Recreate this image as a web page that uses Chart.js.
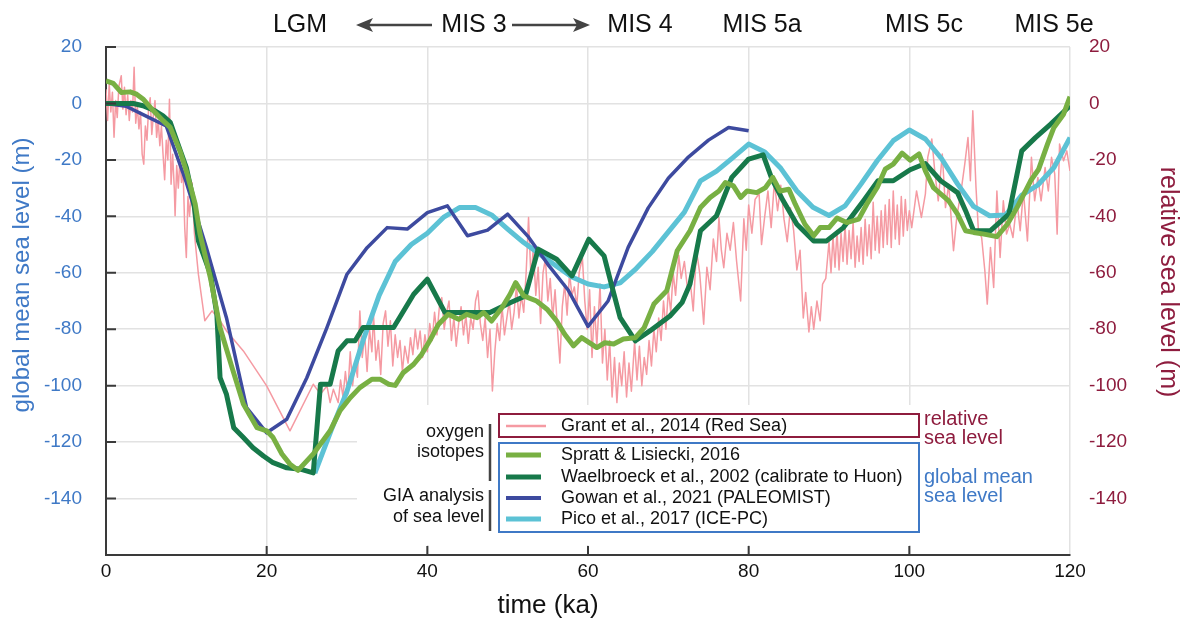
<!DOCTYPE html>
<html>
<head>
<meta charset="utf-8">
<title>Global mean and relative sea level, 0-120 ka</title>
<script src="https://cdn.jsdelivr.net/npm/chart.js@4.4.0/dist/chart.umd.min.js"></script>
<style>
    html, body { margin: 0; padding: 0; background: #fff; }
    canvas { display: block; }
</style>
</head>
<body>
<canvas id="seaLevelChart" width="1187" height="624"></canvas>
<script>
// ---- data: age in ka, sea level in m ----
const ageTicks = [0, 20, 40, 60, 80, 100, 120];
const levelTicks = [20, 0, -20, -40, -60, -80, -100, -120, -140];

const sprattAge = [0, 0.9, 1.9, 3.0, 3.8, 4.6, 5.9, 7.1, 8.0, 9.2, 10.0, 11.1, 11.7, 13.0, 14.2, 15.7, 17.1, 18.8, 20.0, 20.8,
    21.9, 22.9, 23.9, 25.8, 27.9, 29.1, 30.4, 31.6, 33.1, 34.1, 35.2, 36.0, 37.0, 38.3, 39.3, 40.3, 41.4, 42.6, 43.9, 44.9,
    46.2, 47.0, 48.0, 49.3, 50.3, 51.0, 52.0, 53.6, 54.9, 56.1, 57.1, 58.2, 59.2, 60.3, 61.1, 62.1, 63.2, 64.4, 65.9, 67.0,
    68.2, 69.8, 71.1, 72.7, 74.0, 75.2, 76.3, 77.1, 78.1, 79.0, 79.8, 81.0, 82.1, 83.0, 83.9, 85.0, 85.8, 87.0, 88.1, 88.9,
    90.0, 91.0, 92.2, 93.7, 94.7, 96.0, 97.0, 98.0, 99.1, 100.1, 101.2, 102.0, 103.0, 104.9, 106.0, 107.0, 108.0, 109.3, 110.9, 112.2,
    113.4, 115.1, 116.1, 117.2, 118.0, 119.2, 120.0];
const sprattSL = [8.0, 7.1, 3.9, 4.1, 3.3, 1.6, -2.6, -6.1, -8.5, -16.8, -23.9, -35.6, -46.2, -61.8, -79.5, -93.7, -106.5, -114.9, -116, -118.4,
    -124.2, -127.8, -130, -124.2, -116, -109, -104.3, -100.7, -97.7, -97.7, -99.5, -99.9, -95.4, -92.4, -88.9, -84.1, -78.2, -74.7, -76.5, -74.7,
    -75.9, -74.1, -77.1, -72.3, -67.6, -63.5, -68.2, -70.0, -72.9, -77.1, -81.8, -85.9, -83.0, -85.0, -86.5, -84.8, -85.2, -83.5, -83.0, -79.4,
    -71.1, -66.4, -52.2, -45.1, -36.9, -33.3, -31.0, -28.0, -29.2, -33.3, -31.0, -31.6, -29.8, -26.2, -31.0, -30.4, -35.7, -42.8, -46.9, -44.0,
    -44.0, -40.6, -42.2, -41.0, -35.7, -29.8, -23.3, -21.5, -17.6, -20.1, -17.9, -23.9, -29.8, -34.5, -39.2, -45.1, -45.7, -46.3, -47.2, -42.8,
    -36.9, -27.4, -23.3, -14.4, -8.5, -3.8, 2.4];

const waelAge = [0, 3.4, 4.6, 6.1, 7.1, 8.0, 8.8, 10.0, 10.9, 11.5, 13.0, 13.8, 14.2, 15.0, 15.9, 17.1, 18.3, 19.6, 20.8, 22.5,
    24.2, 25.8, 26.7, 27.9, 28.9, 30.0, 31.0, 32.0, 35.8, 38.3, 40.0, 42.2, 45.3, 47.8, 50.3, 52.2, 53.8, 56.1, 58.0, 60.1,
    62.0, 62.8, 64.0, 65.9, 67.7, 70.2, 71.7, 72.7, 74.0, 76.0, 77.9, 80.0, 81.8, 82.9, 84.3, 86.0, 88.1, 89.7, 91.8, 94.3,
    96.1, 98.0, 100.1, 102.0, 103.9, 106.0, 107.0, 108.0, 110.1, 112.4, 114.0, 115.7, 117.6, 120.0];
const waelSL = [0, 0, -0.8, -2.6, -4.4, -6.7, -13.2, -22.7, -34.5, -48.7, -60.5, -74.7, -97.2, -103.1, -114.9, -118.4, -122.0, -124.9, -127.3, -129.1,
    -129.6, -130.9, -99.5, -99.5, -87.7, -84.1, -84.1, -79.4, -79.4, -67.6, -62.3, -74.1, -74.1, -74.1, -70.6, -68.2, -51.6, -55.2, -61.1, -48.1,
    -54.0, -62.9, -75.9, -84.1, -80.6, -75.3, -70.6, -64.0, -45.1, -39.8, -26.2, -19.7, -18.2, -26.8, -34.5, -42.8, -48.7, -48.7, -44.0, -34.5,
    -27.4, -27.4, -23.5, -21.3, -27.4, -31.6, -38.0, -45.1, -45.1, -39.2, -16.8, -12.1, -7.3, -0.8];

const gowanAge = [0, 2.5, 5, 7.5, 10, 12.5, 15, 17.5, 20, 22.5, 25, 27.5, 30, 32.5, 35, 37.5, 40, 42.5, 45, 47.5,
    50, 52.5, 55, 57.5, 60, 62.5, 65, 67.5, 70, 72.5, 75, 77.5, 80];
const gowanSL = [0, -1, -4.5, -8, -28, -51.1, -76, -107.8, -116.7, -111.9, -97.2, -79.4, -60.5, -51.1, -44, -44.5, -38.7, -36.3, -46.9, -44.9,
    -39.2, -47, -57, -66, -79, -70, -51, -37, -26.5, -19, -13, -8.5, -9.7];

const picoAge = [26, 28, 30, 32, 34, 36, 38, 40, 42, 44, 46, 48, 50, 52, 54, 56, 58, 60, 62, 64,
    66, 68, 70, 72, 74, 76, 78, 80, 82, 84, 86, 88, 90, 92, 94, 96, 98, 100, 102, 104,
    106, 108, 110, 112, 114, 116, 118, 120];
const picoSL = [-131, -116, -102, -84, -68, -56, -50, -46, -40.4, -36.9, -36.9, -39.5, -44.5, -49.3, -53.4, -57.5, -61.5, -64, -65, -63.6,
    -58.5, -52.5, -45.5, -38.5, -27.4, -24, -19.3, -14.4, -17.2, -23, -31, -36.8, -39.7, -36.3, -28.5, -20.3, -13.2, -9.4, -12.6, -19.5,
    -28.5, -36.5, -39.8, -39.5, -32.5, -28.9, -22.7, -12.1];

// Grant et al. 2014, Red Sea relative sea level (right axis)
const grantAge = [0.0, 0.2, 0.4, 0.6, 0.8, 1.0, 1.2, 1.4, 1.6, 1.9, 2.1, 2.3, 2.5, 2.7, 2.9, 3.1, 3.3, 3.5, 3.7, 3.9,
    4.1, 4.3, 4.5, 4.7, 4.9, 5.1, 5.3, 5.5, 5.7, 5.9, 6.1, 6.3, 6.5, 6.7, 6.9, 7.1, 7.3, 7.5, 7.7, 7.9,
    8.1, 8.3, 8.5, 8.6, 8.8, 9.0, 9.2, 9.4, 9.6, 9.8, 10.0, 10.2, 10.4, 10.7, 11.0, 11.5, 12.3, 13.2, 14.2, 15.0,
    17.1, 20.0, 22.9, 25.8, 26.7, 27.5, 27.9, 28.3, 28.9, 29.2, 29.5, 29.8, 30.1, 30.4, 30.7, 31.0, 31.3, 31.6, 31.9, 32.2,
    32.5, 32.8, 33.1, 33.3, 33.6, 33.9, 34.2, 34.5, 34.8, 35.1, 35.4, 35.7, 36.0, 36.3, 36.6, 36.9, 37.2, 37.6, 37.9, 38.2,
    38.5, 38.8, 39.1, 39.4, 39.7, 40.0, 40.3, 40.6, 40.9, 41.2, 41.5, 41.8, 42.1, 42.4, 42.7, 43.0, 43.3, 43.6, 43.9, 44.2,
    44.5, 44.8, 45.1, 45.4, 45.7, 46.0, 46.3, 46.6, 46.9, 47.2, 47.5, 47.8, 48.1, 48.4, 48.7, 49.0, 49.3, 49.6, 49.9, 50.2,
    50.5, 50.8, 51.1, 51.4, 51.7, 52.0, 52.3, 52.6, 52.9, 53.2, 53.5, 53.8, 54.1, 54.4, 54.7, 55.0, 55.3, 55.6, 55.9, 56.2,
    56.5, 56.8, 57.1, 57.4, 57.7, 58.0, 58.3, 58.6, 58.9, 59.3, 59.6, 59.9, 60.2, 60.5, 60.8, 61.1, 61.5, 61.8, 62.1, 62.4,
    62.7, 63.0, 63.3, 63.6, 63.9, 64.2, 64.5, 64.8, 65.1, 65.4, 65.8, 66.1, 66.4, 66.7, 67.0, 67.3, 67.6, 67.9, 68.2, 68.5,
    68.8, 69.1, 69.4, 69.7, 70.0, 70.3, 70.6, 70.9, 71.3, 71.6, 72.0, 72.4, 72.7, 73.1, 73.5, 73.9, 74.4, 74.8, 75.2, 75.6,
    76.0, 76.3, 76.6, 76.9, 77.3, 77.7, 78.1, 78.5, 79.0, 79.4, 79.7, 80.0, 80.4, 80.8, 81.3, 81.6, 82.0, 82.4, 82.8, 83.2,
    83.6, 84.0, 84.4, 84.8, 85.2, 85.6, 86.0, 86.4, 86.8, 87.1, 87.5, 87.8, 88.1, 88.5, 88.9, 89.2, 89.6, 90.0, 90.25, 90.5,
    90.75, 91.0, 91.25, 91.5, 91.75, 92.0, 92.25, 92.5, 92.75, 93.0, 93.25, 93.5, 93.75, 94.0, 94.25, 94.5, 94.75, 95.0, 95.25, 95.5,
    95.75, 96.0, 96.25, 96.5, 96.75, 97.0, 97.25, 97.5, 97.75, 98.0, 98.25, 98.5, 98.75, 99.0, 99.25, 99.5, 99.75, 100.0, 100.3, 100.9,
    101.5, 102.0, 102.3, 102.8, 103.2, 103.6, 104.1, 104.5, 104.9, 105.5, 105.9, 106.5, 106.9, 107.3, 107.6, 107.9, 108.3, 108.6, 109.0, 109.4,
    109.7, 110.1, 110.5, 110.9, 111.3, 111.7, 112.1, 112.5, 112.9, 113.4, 113.8, 114.2, 114.7, 115.2, 115.6, 116.0, 116.4, 116.9, 117.3, 117.7,
    118.1, 118.4, 118.7, 119.2, 119.6, 120.0];
const grantSL = [5, -6, 7, -3, 4, -12, 1, -5, 6, 9.8, -2, 5.7, -4, 3, -6, 1, -3, 12.8, -7, -1,
    -9, -3, -18, -21.5, -8, -13, -2, 2, -11, -4, 1, -12, -6, -15, -8, -18, -27, -13, -20, 1.5,
    -28.6, -18, -30, -39.8, -22, -30, -20, -28, -24, -44, -54.6, -33, -40, -28, -46, -60.5, -77, -73.5, -77, -80.6,
    -87.7, -100.1, -116, -99.5, -103, -100.1, -106, -101.3, -106, -98, -104, -95, -103, -88, -100, -92, -97, -73.5, -90, -82,
    -95, -80, -88, -75, -91, -84, -96, -78, -73.5, -86, -77, -93, -82, -90, -84, -95, -86, -92, -83, -89,
    -80, -87, -80.6, -90, -82, -88, -78, -84, -74, -82, -72, -68.8, -80, -74, -70, -84, -76, -86, -78, -72,
    -82, -75, -85, -76, -80, -70, -66.4, -78, -84, -76, -90, -80, -101.9, -88, -78, -84, -72, -82, -76, -70,
    -80, -74, -64.4, -76, -68, -74, -60, -40.4, -62, -51, -68, -58, -78, -60, -55, -70, -62, -76, -66, -80,
    -92, -72, -64, -75, -60, -68, -65, -72, -60, -54.6, -70, -80, -66, -90, -72, -86, -64, -92, -80, -98,
    -84, -104, -90, -106, -92, -100, -88, -104, -92, -102, -84.5, -98, -86, -100, -90, -96, -84, -93, -80, -88,
    -76, -84, -70, -80, -66, -74, -60, -68, -53.8, -62, -56, -66, -62.3, -73.5, -52, -60, -78.2, -58, -66, -48,
    -56, -40.4, -52, -58.2, -46, -52, -42.2, -56, -70, -40.9, -52, -36, -46, -34, -32, -50, -40, -31, -44, -27.8,
    -38, -29, -41, -49, -37, -45, -59, -52, -76, -67, -81, -72, -80, -70, -77, -64, -62, -49, -60, -47,
    -58, -45, -59, -46, -56, -43, -57, -45, -55, -42, -58, -47, -56, -44, -57, -41, -54, -43, -55, -35,
    -52, -40, -53, -38, -51, -36, -50, -34, -51, -31, -48, -36, -50, -33, -47, -34, -45, -38, -44, -31,
    -40.4, -32, -19, -12.6, -25, -34.5, -17.9, -36.9, -28.6, -52.2, -40.4, -29.8, -21.5, -12.1, -27.4, -2.6, -29.8, -45.1, -47.5, -59.3,
    -71.1, -51, -65.2, -31, -54.6, -34.5, -46.3, -42.8, -47.5, -34.5, -45.1, -31, -48.7, -19.1, -34.5, -26.2, -34.5, -22.7, -31, -19.1,
    -25, -46.3, -14.4, -20.3, -16.8, -23.9];

const BLUE = '#3f79c6';
const DARK_RED = '#8e1c3e';
const GRID = '#e2e2e2';
const AXIS = '#3a3a3a';
const FONT = '"Liberation Sans", Arial, Helvetica, sans-serif';

const toPoints = (xs, ys) => xs.map((x, i) => ({ x: x, y: ys[i] }));

// small plugin: inner ticks, legend panel, period labels and axis titles
const decorPlugin = {
    id: 'decor',
    afterDatasetsDraw(chart) {
        const ctx = chart.ctx;
        const area = chart.chartArea;
        ctx.save();

        // white panel behind the legend
        ctx.fillStyle = '#fff';
        ctx.fillRect(357, 405, area.right - 358, 140);

        // group labels on the left
        ctx.fillStyle = '#111';
        ctx.font = '18px ' + FONT;
        ctx.textAlign = 'right';
        ctx.textBaseline = 'middle';
        ctx.fillText('oxygen', 484, 432);
        ctx.fillText('isotopes', 484, 452);
        ctx.fillText('GIA analysis', 484, 496);
        ctx.fillText('of sea level', 484, 517);

        ctx.strokeStyle = '#444';
        ctx.lineWidth = 2.5;
        ctx.beginPath();
        ctx.moveTo(490, 424); ctx.lineTo(490, 481);
        ctx.moveTo(490, 490); ctx.lineTo(490, 531);
        ctx.stroke();

        // boxes
        ctx.lineWidth = 2;
        ctx.strokeStyle = DARK_RED;
        ctx.strokeRect(499, 414, 420, 23);
        ctx.strokeStyle = BLUE;
        ctx.strokeRect(499, 443, 420, 89);

        // entries
        const rows = [[4, 426], [0, 455], [1, 477], [2, 498], [3, 519]];
        ctx.textAlign = 'left';
        rows.forEach(([idx, y]) => {
            const ds = chart.data.datasets[idx];
            ctx.strokeStyle = ds.borderColor;
            ctx.lineWidth = ds.legendWidth;
            ctx.beginPath();
            ctx.moveTo(506, y);
            ctx.lineTo(idx === 4 ? 546 : 541, y);
            ctx.stroke();
            ctx.fillStyle = '#111';
            ctx.fillText(ds.label, 561, y);
        });

        // right-hand group names
        ctx.font = '20px ' + FONT;
        ctx.fillStyle = DARK_RED;
        ctx.fillText('relative', 924, 419);
        ctx.fillText('sea level', 924, 438);
        ctx.fillStyle = BLUE;
        ctx.fillText('global mean', 924, 477);
        ctx.fillText('sea level', 924, 496);
        ctx.restore();
    },
    afterDraw(chart) {
        const ctx = chart.ctx;
        const area = chart.chartArea;
        const x = chart.scales.x;
        const y = chart.scales.y;
        ctx.save();

        // inner tick marks
        ctx.strokeStyle = AXIS;
        ctx.lineWidth = 2;
        ctx.beginPath();
        y.ticks.forEach(t => {
            const py = y.getPixelForValue(t.value);
            ctx.moveTo(area.left, py);
            ctx.lineTo(area.left + 10, py);
        });
        x.ticks.forEach(t => {
            if (t.value === 0 || t.value === 120) return;
            const px = x.getPixelForValue(t.value);
            ctx.moveTo(px, area.bottom);
            ctx.lineTo(px, area.bottom - 9);
        });
        ctx.stroke();

        // period labels above the plot
        ctx.fillStyle = '#111';
        ctx.font = '25px ' + FONT;
        ctx.textAlign = 'center';
        ctx.textBaseline = 'middle';
        [['LGM', 300], ['MIS 3', 474], ['MIS 4', 640], ['MIS 5a', 762], ['MIS 5c', 924], ['MIS 5e', 1054]]
            .forEach(([txt, px]) => ctx.fillText(txt, px, 25));

        const arrow = (x0, x1, py) => {
            const dir = Math.sign(x1 - x0);
            ctx.strokeStyle = '#444';
            ctx.fillStyle = '#444';
            ctx.lineWidth = 2.5;
            ctx.beginPath();
            ctx.moveTo(x0, py);
            ctx.lineTo(x1 - dir * 12, py);
            ctx.stroke();
            ctx.beginPath();
            ctx.moveTo(x1, py);
            ctx.lineTo(x1 - dir * 17, py - 7);
            ctx.lineTo(x1 - dir * 13, py);
            ctx.lineTo(x1 - dir * 17, py + 7);
            ctx.closePath();
            ctx.fill();
        };
        arrow(432, 356, 25);
        arrow(512, 590, 25);

        // axis titles
        ctx.font = '26px ' + FONT;
        ctx.fillStyle = '#111';
        ctx.fillText('time (ka)', 548, 606);

        ctx.font = '24px ' + FONT;
        ctx.fillStyle = BLUE;
        ctx.translate(22, 275);
        ctx.rotate(-Math.PI / 2);
        ctx.fillText('global mean sea level (m)', 0, 0);
        ctx.setTransform(1, 0, 0, 1, 0, 0);

        ctx.fillStyle = DARK_RED;
        ctx.font = '25px ' + FONT;
        ctx.translate(1168, 282);
        ctx.rotate(Math.PI / 2);
        ctx.fillText('relative sea level (m)', 0, 0);
        ctx.restore();
    }
};

const levelLabel = v => (v === -160 ? '' : v);

new Chart(document.getElementById('seaLevelChart'), {
    type: 'line',
    data: {
        datasets: [
            { label: 'Spratt & Lisiecki, 2016', data: toPoints(sprattAge, sprattSL), borderColor: '#78b043',
              borderWidth: 5, legendWidth: 5, yAxisID: 'y', order: 1 },
            { label: 'Waelbroeck et al., 2002 (calibrate to Huon)', data: toPoints(waelAge, waelSL), borderColor: '#17794a',
              borderWidth: 5, legendWidth: 5, yAxisID: 'y', order: 2 },
            { label: 'Gowan et al., 2021 (PALEOMIST)', data: toPoints(gowanAge, gowanSL), borderColor: '#3d4a9f',
              borderWidth: 3.5, legendWidth: 4, yAxisID: 'y', order: 3 },
            { label: 'Pico et al., 2017 (ICE-PC)', data: toPoints(picoAge, picoSL), borderColor: '#5cc2d5',
              borderWidth: 5, legendWidth: 5, yAxisID: 'y', order: 4 },
            { label: 'Grant et al., 2014 (Red Sea)', data: toPoints(grantAge, grantSL), borderColor: '#f59aa2',
              borderWidth: 1.5, legendWidth: 2.5, yAxisID: 'y2', order: 5 }
        ]
    },
    options: {
        responsive: false,
        animation: false,
        parsing: true,
        layout: { padding: { top: 47, left: 0, right: 0, bottom: 0 } },
        elements: {
            point: { radius: 0 },
            line: { tension: 0, borderJoinStyle: 'round', fill: false }
        },
        plugins: {
            legend: { display: false },
            tooltip: { enabled: false }
        },
        scales: {
            x: {
                type: 'linear',
                min: 0,
                max: 120,
                afterFit: s => { s.height = 69; },
                afterBuildTicks: s => { s.ticks = ageTicks.map(v => ({ value: v })); },
                ticks: { color: '#111', font: { size: 19, family: FONT }, padding: 5 },
                grid: { color: GRID, lineWidth: 1.5, drawTicks: false },
                border: { color: AXIS, width: 2 }
            },
            y: {
                position: 'left',
                min: -160,
                max: 20,
                afterFit: s => { s.width = 106; },
                afterBuildTicks: s => { s.ticks = levelTicks.concat([-160]).map(v => ({ value: v })); },
                ticks: { color: BLUE, font: { size: 19, family: FONT }, padding: 24, callback: levelLabel },
                grid: { color: GRID, lineWidth: 1.5, drawTicks: false },
                border: { color: AXIS, width: 2 }
            },
            y2: {
                position: 'right',
                min: -160,
                max: 20,
                afterFit: s => { s.width = 117; },
                afterBuildTicks: s => { s.ticks = levelTicks.concat([-160]).map(v => ({ value: v })); },
                ticks: { color: DARK_RED, font: { size: 19, family: FONT }, padding: 19, callback: levelLabel },
                grid: { display: false, drawTicks: false },
                border: { display: false }
            }
        }
    },
    plugins: [decorPlugin]
});
</script>
</body>
</html>
